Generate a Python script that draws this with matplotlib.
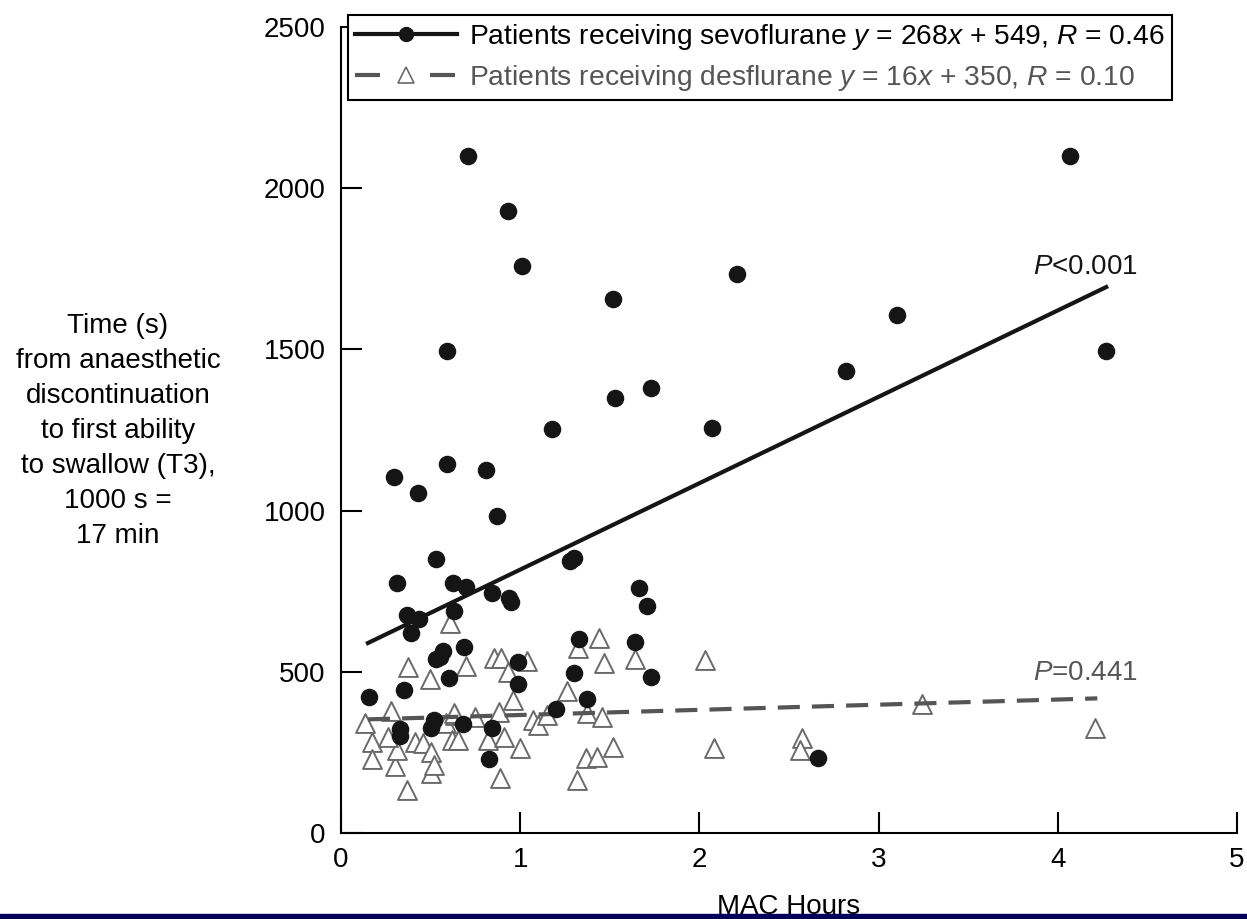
import numpy as np
import matplotlib
matplotlib.use("Agg")
import matplotlib.pyplot as plt
from matplotlib.patches import Rectangle

plt.rcParams['font.family'] = ['Liberation Sans', 'DejaVu Sans']
plt.rcParams['mathtext.fontset'] = 'custom'
plt.rcParams['mathtext.rm'] = 'Liberation Sans'
plt.rcParams['mathtext.it'] = 'Liberation Sans:italic'

# sevoflurane patients (filled circles)
sevo_x = [0.71, 0.93, 1.01, 1.52, 2.21, 4.07, 3.10, 2.82, 4.27, 1.53, 1.73, 2.07,
          0.59, 1.175, 0.295, 0.59, 0.81, 0.43, 0.87, 0.53, 1.28, 1.30, 0.31, 0.625,
          0.70, 0.84, 0.94, 0.95, 1.665, 1.71, 0.37, 0.435, 0.63, 0.39, 1.33, 1.64,
          0.57, 0.53, 0.55, 0.685, 0.985, 0.60, 1.30, 1.73, 0.99, 0.155, 0.35, 1.20,
          1.375, 0.52, 0.50, 0.33, 0.33, 0.68, 0.84, 0.825, 2.66]
sevo_y = [2100, 1930, 1760, 1655, 1735, 2100, 1607, 1433, 1495, 1350, 1380, 1255,
          1495, 1253, 1104, 1144, 1126, 1054, 983, 850, 845, 852, 775, 775,
          764, 744, 728, 715, 759, 704, 676, 663, 690, 620, 601, 592,
          563, 540, 546, 577, 531, 481, 496, 484, 462, 422, 443, 384,
          415, 350, 325, 322, 300, 338, 325, 229, 232]

# desflurane patients (open triangles)
des_x = [0.607, 0.373, 0.496, 0.696, 0.853, 0.89, 0.93, 1.04, 0.96, 1.26, 1.325,
         1.44, 1.47, 1.64, 0.28, 0.135, 0.17, 0.17, 0.30, 0.31, 0.26, 0.37, 0.41,
         0.46, 0.50, 0.50, 0.52, 0.585, 0.635, 0.62, 0.65, 0.75, 0.82, 0.88, 0.91,
         1.00, 0.885, 1.07, 1.10, 1.15, 1.315, 1.365, 1.43, 1.515, 1.375, 1.455,
         0.63, 2.03, 2.08, 2.57, 2.56, 3.24, 4.21]
des_y = [651, 515, 478, 518, 543, 543, 499, 534, 412, 440, 574,
         605, 527, 540, 378, 341, 283, 230, 208, 257, 298, 133, 283,
         279, 251, 185, 210, 341, 366, 288, 288, 360, 288, 375, 298,
         263, 170, 350, 335, 366, 164, 232, 236, 267, 372, 360,
         372, 537, 263, 295, 258, 400, 325]

# regression lines from the legend
sevo_fit = (268, 549)
des_fit = (16, 350)
sevo_range = [0.15, 4.27]
des_range = [0.15, 4.22]

fig = plt.figure(figsize=(12.47, 9.19), dpi=100)
ax = fig.add_axes([0.2735, 0.0936, 0.7185, 0.877])

ax.scatter(des_x, des_y, marker='^', s=185, facecolor='white', edgecolor='#6a6a6a',
           linewidth=1.4, zorder=2)
dx = np.array(des_range)
ax.plot(dx, des_fit[0] * dx + des_fit[1], color='#555555', lw=3,
        dashes=(5.3, 2.9), zorder=3)
ax.scatter(sevo_x, sevo_y, marker='o', s=135, color='#151515', zorder=4)
sx = np.array(sevo_range)
ax.plot(sx, sevo_fit[0] * sx + sevo_fit[1], color='#151515', lw=3, zorder=5)

# legend handles
h1, = ax.plot([], [], color='#151515', lw=3, marker='o', ms=10)
h2, = ax.plot([], [], color='#555555', lw=3, dashes=(6, 12), marker='^', ms=12,
              mfc='white', mec='#6a6a6a', mew=1.2)
leg = ax.legend([h1, h2],
                [r'Patients receiving sevoflurane $y$ = 268$x$ + 549, $R$ = 0.46',
                 r'Patients receiving desflurane $y$ = 16$x$ + 350, $R$ = 0.10'],
                loc='upper left', bbox_to_anchor=(0.008, 1.015), fontsize=20.3,
                frameon=True, fancybox=False, framealpha=1, edgecolor='black',
                handlelength=3.6, handletextpad=0.45, borderpad=0.25, labelspacing=0.4,
                borderaxespad=0)
leg.get_frame().set_linewidth(1.5)
leg.get_texts()[1].set_color('#555555')
leg.set_zorder(10)

ax.text(3.86, 1755, r'$P$<0.001', fontsize=20, ha='left', va='center', color='#151515')
ax.text(3.86, 496, r'$P$=0.441', fontsize=20, ha='left', va='center', color='#555555')

ax.set_xlim(0, 5)
ax.set_ylim(0, 2500)
ax.set_xticks([0, 1, 2, 3, 4, 5])
ax.set_yticks([0, 500, 1000, 1500, 2000, 2500])
ax.tick_params(direction='in', length=15, width=1.5, labelsize=20)
ax.tick_params(axis='y', pad=11)
ax.tick_params(axis='x', pad=10)
for side in ['top', 'right']:
    ax.spines[side].set_visible(False)
for side in ['left', 'bottom']:
    ax.spines[side].set_linewidth(1.5)

ax.set_xlabel('MAC Hours', fontsize=20)
ax.xaxis.set_label_coords(0.5, -0.076)
ax.set_ylabel('Time (s)\nfrom anaesthetic\ndiscontinuation\nto first ability\n'
              'to swallow (T3),\n1000 s =\n17 min',
              rotation=0, fontsize=20, ha='center', va='center', linespacing=1.45)
ax.yaxis.set_label_coords(-0.2489, 0.4988)

# strip along the bottom edge of the screenshot
fig.add_artist(Rectangle((0, 0), 1, 0.0055, transform=fig.transFigure,
                         color='#00005a', zorder=20))

fig.savefig('out.png', dpi=100)
